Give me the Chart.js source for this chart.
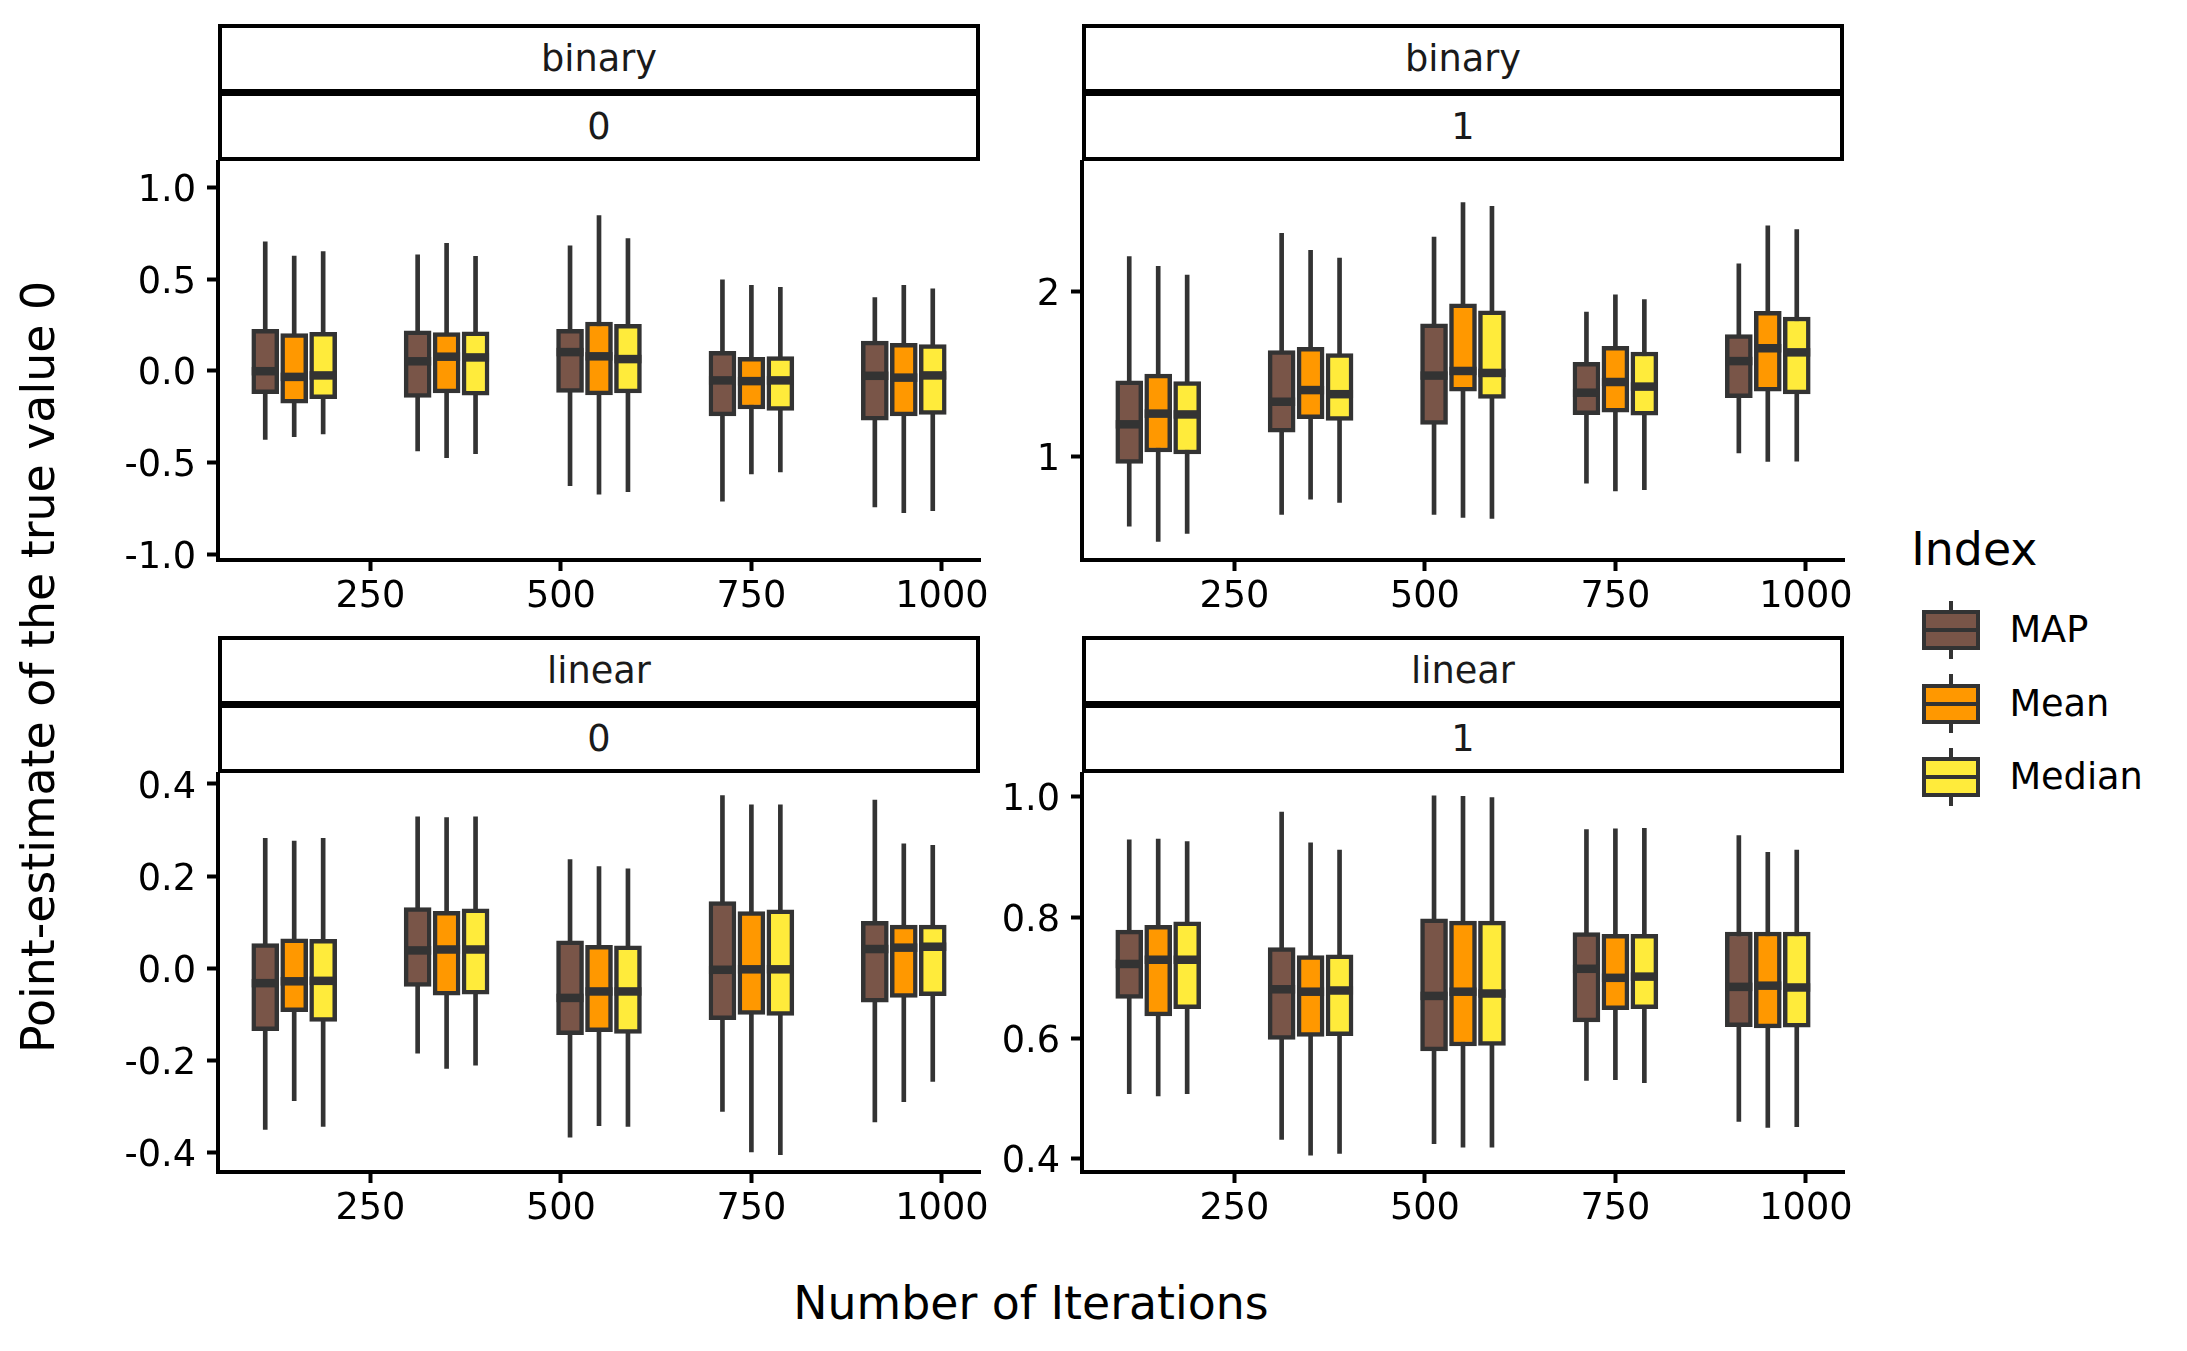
<!DOCTYPE html>
<html>
<head>
<meta charset="utf-8">
<script src="https://cdn.jsdelivr.net/npm/chart.js@4.4.0/dist/chart.umd.min.js"></script>
<style>
html, body { margin: 0; padding: 0; background: #fff; }
#root { position: relative; width: 2187px; height: 1351px; overflow: hidden; font-family: 'DejaVu Sans', sans-serif; background: #fff; }
canvas { position: absolute; }
.strip { position: absolute; box-sizing: border-box; border: 4px solid #000; background: #fff;
  display: flex; align-items: center; justify-content: center; padding-top: 2px;
  font-size: 36.7px; line-height: 36.7px; color: #1a1a1a; white-space: nowrap; }
.title { position: absolute; font-size: 45.8px; line-height: 45.8px; color: #000; white-space: nowrap; }
.key { position: absolute; width: 58px; height: 40px; box-sizing: border-box; border: 4px solid #333; }
.key .med { position: absolute; left: 0; right: 0; top: 12px; height: 8px; }
.key .med::after { content: ''; position: absolute; left: 0; right: 0; top: 2px; height: 4px; background: #333; }
.stub { position: absolute; width: 4px; background: #333; }
.ltext { position: absolute; font-size: 36.7px; line-height: 36.7px; color: #000; white-space: nowrap; }
</style>
</head>
<body>
<div id="root"></div>
<script>
// ---------------- data ----------------
const iterations = [150, 350, 550, 750, 950];
const seriesNames = ['MAP', 'Mean', 'Median'];
const xTicks = [250, 500, 750, 1000];
const xTickLabels = ['250', '500', '750', '1000'];

// each entry: [lower whisker, Q1, median, Q3, upper whisker]
const binary0MAP    = [[-0.374,-0.125,-0.002,0.226,0.702],[-0.436,-0.145,0.052,0.218,0.631],[-0.625,-0.118,0.102,0.226,0.681],[-0.710,-0.245,-0.052,0.106,0.496],[-0.741,-0.268,-0.027,0.162,0.399]];
const binary0Mean   = [[-0.359,-0.176,-0.033,0.203,0.625],[-0.473,-0.120,0.077,0.208,0.694],[-0.671,-0.131,0.079,0.266,0.845],[-0.561,-0.208,-0.056,0.073,0.465],[-0.772,-0.245,-0.037,0.150,0.465]];
const binary0Median = [[-0.343,-0.152,-0.025,0.210,0.650],[-0.451,-0.133,0.073,0.212,0.623],[-0.658,-0.120,0.064,0.253,0.720],[-0.550,-0.216,-0.052,0.077,0.455],[-0.762,-0.237,-0.025,0.143,0.446]];

const binary1MAP    = [[0.577,0.958,1.196,1.460,2.215],[0.649,1.148,1.333,1.644,2.356],[0.649,1.196,1.492,1.806,2.333],[0.838,1.254,1.388,1.573,1.878],[1.023,1.358,1.580,1.741,2.171]];
const binary1Mean   = [[0.485,1.028,1.261,1.501,2.155],[0.741,1.231,1.404,1.663,2.252],[0.630,1.397,1.520,1.928,2.543],[0.792,1.270,1.453,1.670,1.982],[0.970,1.397,1.658,1.882,2.402]];
const binary1Median = [[0.533,1.016,1.256,1.455,2.102],[0.721,1.219,1.379,1.626,2.206],[0.624,1.353,1.508,1.885,2.520],[0.799,1.252,1.425,1.635,1.954],[0.972,1.381,1.633,1.848,2.379]];

const linear0MAP    = [[-0.349,-0.135,-0.032,0.054,0.282],[-0.184,-0.039,0.039,0.132,0.329],[-0.366,-0.144,-0.064,0.060,0.236],[-0.310,-0.111,-0.003,0.145,0.375],[-0.333,-0.073,0.042,0.102,0.365]];
const linear0Mean   = [[-0.287,-0.094,-0.028,0.064,0.276],[-0.217,-0.058,0.041,0.124,0.327],[-0.341,-0.137,-0.050,0.050,0.221],[-0.398,-0.100,-0.002,0.123,0.355],[-0.289,-0.063,0.045,0.094,0.270]];
const linear0Median = [[-0.343,-0.115,-0.027,0.063,0.282],[-0.210,-0.056,0.041,0.129,0.329],[-0.343,-0.141,-0.050,0.049,0.216],[-0.404,-0.102,-0.002,0.127,0.355],[-0.245,-0.059,0.047,0.094,0.267]];

const linear1MAP    = [[0.508,0.666,0.723,0.779,0.929],[0.432,0.598,0.681,0.750,0.975],[0.425,0.579,0.670,0.798,1.002],[0.530,0.627,0.715,0.775,0.946],[0.462,0.619,0.685,0.776,0.936]];
const linear1Mean   = [[0.504,0.637,0.730,0.787,0.930],[0.406,0.603,0.677,0.737,0.924],[0.419,0.587,0.677,0.794,1.001],[0.531,0.647,0.700,0.772,0.947],[0.452,0.617,0.687,0.776,0.908]];
const linear1Median = [[0.508,0.649,0.730,0.793,0.926],[0.409,0.604,0.679,0.738,0.912],[0.419,0.588,0.674,0.794,0.999],[0.526,0.649,0.702,0.772,0.948],[0.453,0.618,0.684,0.776,0.912]];

const yTicksBinary0 = [-1, -0.5, 0, 0.5, 1];
const yLabelsBinary0 = ['-1.0', '-0.5', '0.0', '0.5', '1.0'];
const yTicksBinary1 = [1, 2];
const yLabelsBinary1 = ['1', '2'];
const yTicksLinear0 = [-0.4, -0.2, 0, 0.2, 0.4];
const yLabelsLinear0 = ['-0.4', '-0.2', '0.0', '0.2', '0.4'];
const yTicksLinear1 = [0.4, 0.6, 0.8, 1.0];
const yLabelsLinear1 = ['0.4', '0.6', '0.8', '1.0'];

const facetModel = ['binary', 'binary', 'linear', 'linear'];
const facetIndex = ['0', '1', '0', '1'];
const legendTitle = 'Index';
const xTitle = 'Number of Iterations';
const yTitle = 'Point-estimate of the true value 0';

// ---------------- styles / layout ----------------
const COLORS = ['#795548', '#FF9800', '#FFEB3B'];
const OUTLINE = '#333333';
const DODGE = [-38, 0, 38];
const FONT = 'DejaVu Sans';
const TICK_FONT = 36.7;
const PANEL_W = 762, PANEL_H = 401;
const Y_AXIS_W = 200, X_AXIS_H = 100, PAD_TOP = 30, PAD_RIGHT = 40;

const panels = [
  { left: 218,  top: 159, stats: [binary0MAP, binary0Mean, binary0Median], yMin: -1.030, yMax: 1.137, yTicks: yTicksBinary0, yLabels: yLabelsBinary0 },
  { left: 1082, top: 159, stats: [binary1MAP, binary1Mean, binary1Median], yMin: 0.372,  yMax: 2.789, yTicks: yTicksBinary1, yLabels: yLabelsBinary1 },
  { left: 218,  top: 771, stats: [linear0MAP, linear0Mean, linear0Median], yMin: -0.4416, yMax: 0.4216, yTicks: yTicksLinear0, yLabels: yLabelsLinear0 },
  { left: 1082, top: 771, stats: [linear1MAP, linear1Mean, linear1Median], yMin: 0.378, yMax: 1.038, yTicks: yTicksLinear1, yLabels: yLabelsLinear1 }
];

const root = document.getElementById('root');

function el(tag, cls, styles, text) {
  const e = document.createElement(tag);
  if (cls) e.className = cls;
  Object.assign(e.style, styles || {});
  if (text !== undefined) e.textContent = text;
  root.appendChild(e);
  return e;
}

function axisCommon() {
  return {
    grid: { display: true, drawOnChartArea: false, drawTicks: true, tickLength: 11, tickWidth: 4, tickColor: '#000', offset: false },
    border: { display: true, color: '#000', width: 4 }
  };
}

panels.forEach((p, pi) => {
  // strips
  el('div', 'strip', { left: p.left + 'px', top: (p.top - 135.5) + 'px', width: PANEL_W + 'px', height: '69px' }, facetModel[pi]);
  el('div', 'strip', { left: p.left + 'px', top: (p.top - 67) + 'px', width: PANEL_W + 'px', height: '69px' }, facetIndex[pi]);

  const cv = el('canvas', null, { left: (p.left - Y_AXIS_W) + 'px', top: (p.top - PAD_TOP) + 'px' });
  cv.width = Y_AXIS_W + PANEL_W + PAD_RIGHT;
  cv.height = PAD_TOP + PANEL_H + X_AXIS_H;

  const datasets = [];
  seriesNames.forEach((name, si) => {
    const st = p.stats[si];
    datasets.push({
      type: 'bar', label: name + ' whiskers',
      data: iterations.map((it, i) => ({ x: it + DODGE[si], y: [st[i][0], st[i][4]] })),
      backgroundColor: OUTLINE, borderWidth: 0, barThickness: 4, grouped: false, order: 3
    });
    datasets.push({
      type: 'bar', label: name,
      data: iterations.map((it, i) => ({ x: it + DODGE[si], y: [st[i][1], st[i][3]] })),
      backgroundColor: COLORS[si], borderColor: OUTLINE, borderWidth: 4.5, borderSkipped: false,
      barThickness: 27, grouped: false, order: 2
    });
    datasets.push({
      type: 'scatter', label: name + ' median',
      data: iterations.map((it, i) => ({ x: it + DODGE[si], y: st[i][2] })),
      pointStyle: 'line', pointRadius: 13.5, pointHoverRadius: 13.5,
      pointBorderColor: OUTLINE, pointBorderWidth: 8.5, pointHoverBorderWidth: 8.5,
      borderColor: OUTLINE, order: 1
    });
  });

  const xc = axisCommon(), yc = axisCommon();
  new Chart(cv, {
    type: 'scatter',
    data: { datasets },
    options: {
      responsive: false, animation: false, events: [],
      layout: { padding: { top: PAD_TOP, right: PAD_RIGHT, bottom: 0, left: 0 } },
      plugins: { legend: { display: false }, tooltip: { enabled: false }, title: { display: false } },
      scales: {
        x: {
          type: 'linear', min: 50, max: 1050, offset: false,
          afterBuildTicks: s => { s.ticks = xTicks.map(v => ({ value: v })); },
          afterFit: s => { s.height = X_AXIS_H; },
          ticks: { autoSkip: false, maxRotation: 0, minRotation: 0, padding: 4, color: '#000',
                   font: { family: FONT, size: TICK_FONT }, callback: (v, i) => xTickLabels[i] },
          grid: xc.grid, border: xc.border
        },
        y: {
          type: 'linear', min: p.yMin, max: p.yMax,
          afterBuildTicks: s => { s.ticks = p.yTicks.map(v => ({ value: v })); },
          afterFit: s => { s.width = Y_AXIS_W; },
          ticks: { autoSkip: false, padding: 11, labelOffset: 4, color: '#000',
                   font: { family: FONT, size: TICK_FONT }, callback: (v, i) => p.yLabels[i] },
          grid: yc.grid, border: yc.border
        }
      }
    }
  });
});

// axis titles
el('div', 'title', { left: '0px', width: '2062px', top: '1280.6px', textAlign: 'center' }, xTitle);
el('div', 'title', { left: '16.4px', top: (667 + 600) + 'px', width: '1200px', textAlign: 'center',
  transformOrigin: '0 0', transform: 'rotate(-90deg)' }, yTitle);

// legend
el('div', 'title', { left: '1911.3px', top: '526.8px' }, legendTitle);
const keyCenters = [630, 703.5, 777];
seriesNames.forEach((name, si) => {
  const cy = keyCenters[si];
  el('div', 'stub', { left: '1948.6px', top: (cy - 29.4) + 'px', height: '10px' });
  el('div', 'stub', { left: '1948.6px', top: (cy + 19.4) + 'px', height: '10px' });
  const k = el('div', 'key', { left: '1921.6px', top: (cy - 20) + 'px', background: COLORS[si] });
  const m = document.createElement('div'); m.className = 'med'; k.appendChild(m);
  el('div', 'ltext', { left: '2009.4px', top: (cy - 17.65) + 'px' }, name);
});
</script>
</body>
</html>
